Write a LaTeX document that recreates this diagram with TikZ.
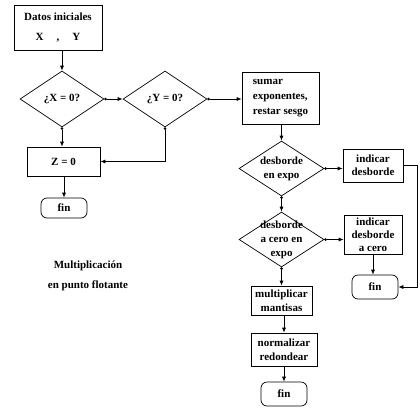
\documentclass[tikz,border=0pt]{standalone}
\usepackage{fontspec}
\setmainfont{Liberation Serif}
\usetikzlibrary{positioning,arrows.meta,shapes.geometric}

\begin{document}
\begin{tikzpicture}[x=1pt,y=-1pt,line width=0.7pt,
        every node/.style={font=\fontsize{11}{14}\selectfont\bfseries},
        box/.style={draw,rectangle,inner sep=0pt,align=center},
        dia/.style={draw,diamond,inner sep=0pt,minimum width=85pt,minimum height=55pt},
        finbox/.style={draw,rectangle,rounded corners=6pt,minimum width=46pt,inner sep=0pt},
        flow/.style={-{Latex[length=5pt,width=4pt]}},
        dflow/.style={{Circle[length=2.5pt]}-{Latex[length=5pt,width=4pt]}}]
        \useasboundingbox (0,0) rectangle (420,410);
        % left column
        \node[box,minimum width=88pt,minimum height=45pt,
              font=\fontsize{11}{20}\selectfont\bfseries] (datos) at (58,27.5)
              {Datos iniciales\\X\hspace{13pt},\hspace{13pt}Y};
        \node[dia,minimum width=84pt,minimum height=56pt,label=center:{¿X = 0?}] (dx) at (62,99) {};
        \node[dia,minimum width=84pt,minimum height=56pt,label=center:{¿Y = 0?}] (dy) at (165,99) {};
        \node[box,minimum width=73pt,minimum height=29pt] (zero) at (63.5,161.5) {Z = 0};
        \node[finbox,minimum height=20pt] (fina) at (64,208) {fin};
        \node[align=center,font=\fontsize{11}{20}\selectfont\bfseries] (titulo) at (88,276)
              {Multiplicación\\en punto flotante};
        % right column
        \node[box,minimum width=77pt,minimum height=52pt,align=left,
              font=\fontsize{11}{15}\selectfont\bfseries] (sumar) at (280.5,98)
              {sumar\\exponentes,\\restar sesgo};
        \node[dia,label={[align=center]center:desborde\\en expo}] (desb) at (281.5,168.5) {};
        \node[dia,label={[align=center]center:desborde\\a cero en\\expo}] (desbc) at (281.5,239.5) {};
        \node[box,minimum width=60pt,minimum height=33pt,
              font=\fontsize{11}{13}\selectfont\bfseries] (ind) at (373,165.5) {indicar\\desborde};
        \node[box,minimum width=58pt,minimum height=39pt,
              font=\fontsize{11}{13}\selectfont\bfseries] (indc) at (373,234.5) {indicar\\desborde\\a cero};
        \node[finbox,minimum height=24pt] (finb) at (375,287) {fin};
        \node[box,minimum width=61pt,minimum height=29pt] (mult) at (281.5,300.5) {multiplicar\\mantisas};
        \node[box,minimum width=66pt,minimum height=33pt] (norm) at (284,349.5) {normalizar\\redondear};
        \node[finbox,minimum height=24pt] (finc) at (284,394) {fin};
        % connectors
        \draw[flow] (datos.south -| dx.north) -- (dx.north);
        \draw[dflow] (dx.east) -- (dy.west);
        \draw[dflow] (dx.south) -- (dx.south |- zero.north);
        \draw[dflow] (dy.south) -- (dy.south |- zero.east) -- (zero.east);
        \draw[flow] (zero.south -| fina.north) -- (fina.north);
        \draw[dflow] (dy.east) -- (dy.east -| sumar.west);
        \draw[flow] (sumar.south -| desb.north) -- (desb.north);
        \draw[dflow] (desb.east) -- (desb.east -| ind.west);
        \draw[dflow] (desb.south) -- (desbc.north);
        \draw[dflow] (desbc.east) -- (desbc.east -| indc.west);
        \draw[flow] (indc.south) -- (indc.south |- finb.north);
        \draw[flow] (ind.east) -- ++(14,0) |- (finb.east);
        \draw[dflow] (desbc.south) -- (desbc.south |- mult.north);
        \draw[flow] (mult.south -| norm.north) -- (norm.north);
        \draw[flow] (norm.south) -- (finc.north);
\end{tikzpicture}
\end{document}
